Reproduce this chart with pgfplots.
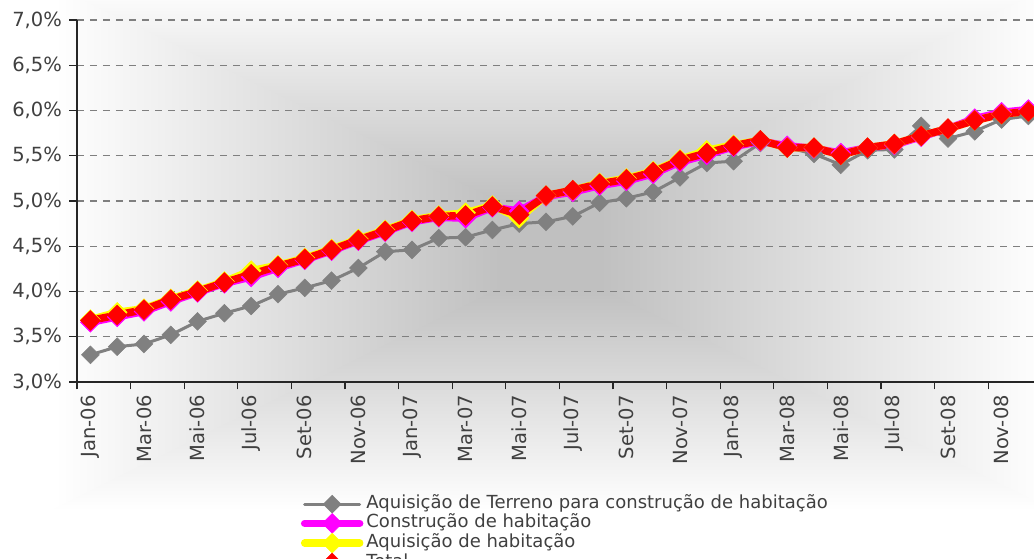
\documentclass[border=0pt]{standalone}
\usepackage{fontspec}
\setmainfont{DejaVu Sans}
\usepackage{pgfplots}
\usepackage{pgfplotstable}
\pgfplotsset{compat=1.18}
\usetikzlibrary{backgrounds, calc}

\definecolor{txt}{HTML}{404040}
\definecolor{axcol}{HTML}{262626}
\definecolor{gridc}{HTML}{7F7F7F}
\definecolor{terreno}{HTML}{808080}
\definecolor{construcao}{HTML}{FF00FF}
\definecolor{aquisicao}{HTML}{FFFF00}
\definecolor{total}{HTML}{FF0000}
\definecolor{bgcentre}{HTML}{C0C0C0}

% taxas de juro (%), Jan-06 .. Dez-08
\pgfplotstableread{
i  terreno construcao aquisicao total
0  3.30 3.66 3.69 3.68
1  3.39 3.72 3.77 3.74
2  3.42 3.78 3.81 3.80
3  3.52 3.89 3.92 3.91
4  3.67 3.99 4.01 4.00
5  3.76 4.09 4.11 4.10
6  3.84 4.16 4.23 4.19
7  3.97 4.26 4.29 4.28
8  4.04 4.35 4.37 4.36
9  4.12 4.45 4.47 4.46
10 4.26 4.56 4.58 4.57
11 4.44 4.66 4.68 4.67
12 4.46 4.77 4.79 4.78
13 4.59 4.82 4.84 4.83
14 4.60 4.81 4.87 4.84
15 4.68 4.93 4.95 4.94
16 4.75 4.89 4.81 4.85
17 4.77 5.05 5.06 5.06
18 4.83 5.10 5.12 5.12
19 4.98 5.17 5.20 5.19
20 5.03 5.22 5.25 5.24
21 5.10 5.30 5.33 5.32
22 5.26 5.43 5.46 5.45
23 5.42 5.51 5.56 5.53
24 5.44 5.60 5.62 5.61
25 5.64 5.66 5.67 5.67
26 5.59 5.61 5.59 5.59
27 5.52 5.58 5.59 5.59
28 5.40 5.53 5.51 5.51
29 5.56 5.59 5.59 5.59
30 5.57 5.62 5.63 5.63
31 5.83 5.71 5.72 5.72
32 5.69 5.80 5.80 5.80
33 5.77 5.91 5.89 5.89
34 5.90 5.98 5.96 5.96
35 5.94 6.01 5.99 5.99
}\taxas

\begin{document}
\begin{tikzpicture}
\begin{axis}[
    name=ax,
    scale only axis, width=957pt, height=362pt,
    xmin=-0.5, xmax=35.21, ymin=3, ymax=7,
    clip=false,
    axis x line*=bottom, axis y line*=left,
    axis line style={draw=axcol, line width=1.3pt},
    xtick={0,2,...,34},
    xticklabels={Jan-06,Mar-06,Mai-06,Jul-06,Set-06,Nov-06,Jan-07,Mar-07,Mai-07,Jul-07,Set-07,Nov-07,Jan-08,Mar-08,Mai-08,Jul-08,Set-08,Nov-08},
    minor xtick={-0.5,1.5,...,34},
    ytick={3,3.5,...,7},
    minor ytick={3,3.5,...,7},
    yticklabels={{3,0\%},{3,5\%},{4,0\%},{4,5\%},{5,0\%},{5,5\%},{6,0\%},{6,5\%},{7,0\%}},
    major tick length=0pt, minor tick length=7.5pt,
    tick align=outside,
    tick style={draw=axcol, line width=1.3pt},
    ymajorgrids,
    major grid style={draw=gridc, line width=1.2pt, dash pattern=on 7pt off 6pt},
    ticklabel style={font=\fontsize{19.5}{22}\selectfont, text=txt},
    xticklabel style={yshift=-13pt, rotate=90, anchor=east, inner sep=0pt},
    yticklabel style={xshift=-15pt, anchor=east, inner sep=0pt},
    legend cell align=left,
    legend style={draw=none, fill=none, inner sep=0pt, outer sep=0pt,
        at={(axis description cs:0.234,-0.312)}, anchor=north west,
        font=\fontsize{18}{18.5}\selectfont, text=txt,
        column sep=3pt,
        nodes={inner sep=0pt, text height=13.5pt, text depth=5pt}},
    legend image code/.code={
        \draw[mark repeat=2, mark phase=2, line cap=round, #1]
            plot coordinates {(0pt,0pt) (27.5pt,0pt) (55pt,0pt)};},
]
\addplot[terreno, line width=3pt, mark=square*, mark size=6.3pt,
    mark options={rotate=45, fill=terreno, draw=terreno, line width=0.5pt}]
    table[x=i, y=terreno] {\taxas};
\addlegendentry{Aquisição de Terreno para construção de habitação}
\addplot[construcao, line width=7.5pt, mark=square*, mark size=7pt,
    mark options={rotate=45, fill=construcao, draw=construcao, line width=0.5pt}]
    table[x=i, y=construcao] {\taxas};
\addlegendentry{Construção de habitação}
\addplot[aquisicao, line width=7.5pt, mark=square*, mark size=7pt,
    mark options={rotate=45, fill=aquisicao, draw=aquisicao, line width=0.5pt}]
    table[x=i, y=aquisicao] {\taxas};
\addlegendentry{Aquisição de habitação}
\addplot[total, line width=7.5pt, mark=square*, mark size=7pt,
    mark options={rotate=45, fill=total, draw=total, line width=0.5pt}]
    table[x=i, y=total] {\taxas};
\addlegendentry{Total}
\end{axis}

% página: 1034 x 559, com o eixo em (77,177)
\pgfresetboundingbox
\begin{scope}[shift={($(ax.south west)+(-77pt,-177pt)$)}, x=1pt, y=1pt]
\useasboundingbox (0,0) rectangle (1034,559);
\begin{scope}[on background layer]
\fill[white] (0,0) rectangle (1034,559);
% fundo: gradiente rectangular, escuro no centro
\shade[left color=white, right color=bgcentre] (55,574) -- (500,359) -- (500,269) -- (55,49) -- cycle;
\shade[left color=bgcentre, right color=white] (1050,574) -- (600,359) -- (600,269) -- (1050,49) -- cycle;
\fill[bgcentre] (499,268) rectangle (601,360);
\shade[top color=white, bottom color=bgcentre] (52,574) -- (1053,574) -- (603,359) -- (497,359) -- cycle;
\shade[top color=bgcentre, bottom color=white] (52,49) -- (1053,49) -- (603,269) -- (497,269) -- cycle;
\end{scope}
\end{scope}
\end{tikzpicture}
\end{document}
